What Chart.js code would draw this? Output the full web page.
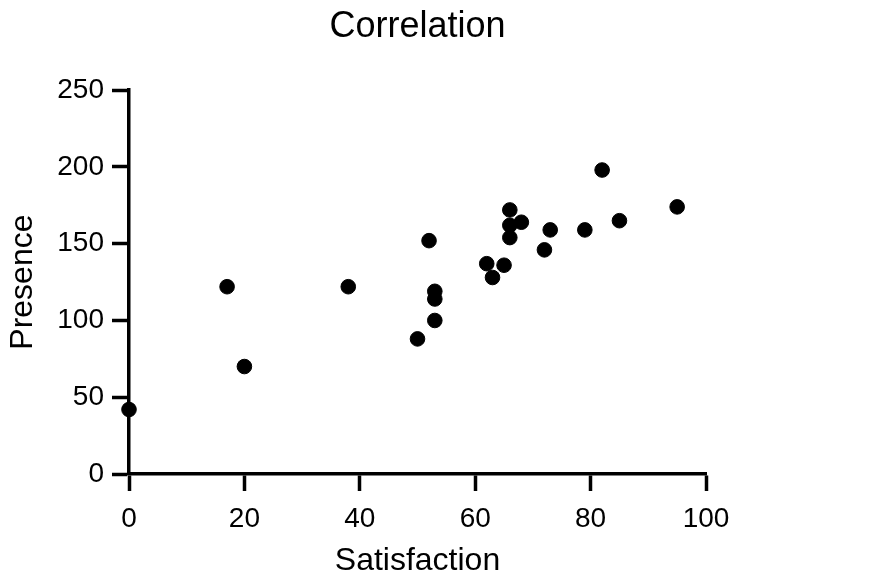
<!DOCTYPE html>
<html lang="en">
<head>
    <meta charset="UTF-8">
    <title>Correlation</title>
    <script src="https://cdn.jsdelivr.net/npm/chart.js"></script>
    <style>
        body { margin: 0; background: #fff; }
        .chart-container { width: 872px; height: 580px; }
    </style>
</head>
<body>
    <div class="chart-container">
        <canvas id="corrChart"></canvas>
    </div>

    <script>
        // values
        const satisfaction = [0, 17, 20, 38, 50, 52, 53, 53, 53, 62, 63, 65, 66, 66, 66, 68, 72, 73, 79, 82, 85, 95];
        const presence     = [42, 122, 70, 122, 88, 152, 119, 114, 100, 137, 128, 136, 172, 162, 154, 164, 146, 159, 159, 198, 165, 174];
        const xTicks = [0, 20, 40, 60, 80, 100];
        const yTicks = [0, 50, 100, 150, 200, 250];

        const points = satisfaction.map((x, i) => ({ x: x, y: presence[i] }));
        const fontFamily = '"Liberation Sans", Arial, sans-serif';

        const ctx = document.getElementById('corrChart').getContext('2d');
        const corrChart = new Chart(ctx, {
            type: 'scatter',
            data: {
                datasets: [{
                    label: 'Correlation',
                    data: points,
                    backgroundColor: '#000',
                    borderColor: '#000',
                    borderWidth: 1,
                    pointRadius: 7.3,
                    pointHoverRadius: 7.3,
                    clip: false
                }]
            },
            options: {
                responsive: true,
                maintainAspectRatio: false,
                animation: false,
                layout: { padding: { left: 0, right: 166, top: 0, bottom: 0 } },
                plugins: {
                    legend: { display: false },
                    tooltip: { enabled: false },
                    title: {
                        display: true,
                        text: 'Correlation',
                        fullSize: false,
                        color: '#000',
                        font: { family: fontFamily, size: 36, weight: 'normal' },
                        padding: { top: 5, bottom: 42 }
                    }
                },
                scales: {
                    x: {
                        type: 'linear',
                        min: 0,
                        max: 100,
                        afterFit: s => { s.height = 106; },
                        afterBuildTicks: s => { s.ticks = xTicks.map(v => ({ value: v })); },
                        border: { display: true, color: '#000', width: 3.5 },
                        grid: { drawOnChartArea: false, tickLength: 17, tickWidth: 3.5, tickColor: '#000' },
                        ticks: { color: '#000', padding: 11, font: { family: fontFamily, size: 28 } },
                        title: {
                            display: true,
                            text: 'Satisfaction',
                            color: '#000',
                            font: { family: fontFamily, size: 32 },
                            padding: { top: 0, bottom: 0 }
                        }
                    },
                    y: {
                        type: 'linear',
                        min: 0,
                        max: 250,
                        afterFit: s => { s.width = 129; },
                        afterBuildTicks: s => { s.ticks = yTicks.map(v => ({ value: v })); },
                        border: { display: true, color: '#000', width: 3.5 },
                        grid: { drawOnChartArea: false, tickLength: 17, tickWidth: 3.5, tickColor: '#000' },
                        ticks: { color: '#000', padding: 8, font: { family: fontFamily, size: 28 } },
                        title: {
                            display: true,
                            text: 'Presence',
                            color: '#000',
                            font: { family: fontFamily, size: 32 },
                            padding: { top: 4, bottom: 0 }
                        }
                    }
                }
            }
        });
    </script>
</body>
</html>
